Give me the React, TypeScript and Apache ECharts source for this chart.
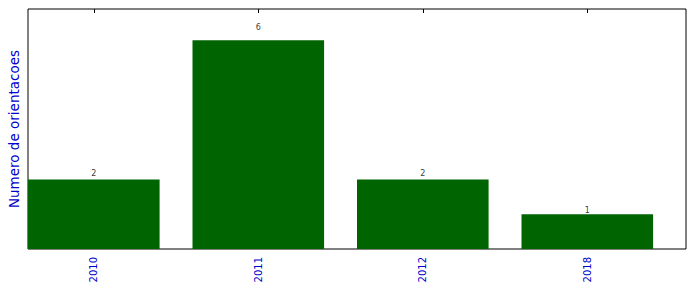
import React, { useEffect, useRef } from "react";
import * as echarts from "echarts";

const years = ["2010", "2011", "2012", "2018"];
const counts = [2, 6, 2, 1];
const yAxisTitle = "Numero de orientacoes";

export default function App() {
  const ref = useRef<HTMLDivElement>(null);
  useEffect(() => {
    if (!ref.current) return;
    const chart = echarts.init(ref.current, null, { renderer: "svg" });
    const positions = years.map((_, i) => i);
    const textBlue = "#0000cd";
    chart.setOption({
      animation: false,
      grid: {
        left: 28,
        right: 10,
        top: 9,
        bottom: 43,
        show: true,
        borderColor: "#000",
        borderWidth: 1,
        backgroundColor: "#fff",
        containLabel: false,
        outerBoundsMode: "none",
      },
      xAxis: [
        {
          type: "value",
          position: "bottom",
          min: -0.4,
          max: 3.6,
          splitLine: { show: false },
          axisLine: { show: false },
          axisTick: {
            show: true,
            inside: true,
            length: 4,
            customValues: positions,
            lineStyle: { color: "#000" },
          },
          axisLabel: {
            show: true,
            customValues: positions,
            rotate: 90,
            margin: 8,
            color: textBlue,
            fontFamily: "DejaVu Sans",
            fontSize: 10,
            formatter: (v: number) => years[Math.round(v)] ?? "",
          },
        },
        {
          type: "value",
          position: "top",
          min: -0.4,
          max: 3.6,
          splitLine: { show: false },
          axisLine: { show: false },
          axisTick: {
            show: true,
            inside: true,
            length: 4,
            customValues: positions,
            lineStyle: { color: "#000" },
          },
          axisLabel: { show: false },
        },
      ],
      yAxis: {
        type: "value",
        min: 0,
        max: 6.9,
        splitLine: { show: false },
        axisLine: { show: false },
        axisTick: { show: false },
        axisLabel: { show: false },
        name: yAxisTitle,
        nameLocation: "middle",
        nameGap: 7,
        nameRotate: 90,
        nameTextStyle: {
          color: textBlue,
          fontFamily: "DejaVu Sans",
          fontSize: 13.5,
        },
      },
      series: [
        {
          type: "bar",
          xAxisIndex: 0,
          barWidth: "80%",
          itemStyle: { color: "#006400" },
          data: counts.map((v, i) => [i, v]),
          z: 2,
        },
        {
          type: "scatter",
          xAxisIndex: 0,
          symbolSize: 0,
          silent: true,
          data: counts.map((v, i) => ({ value: [i, v * 1.05], label: { formatter: String(v) } })),
          label: {
            show: true,
            position: "top",
            distance: -2,
            color: "#000",
            fontFamily: "DejaVu Sans",
            fontSize: 8,
          },
          z: 3,
        },
      ],
    });
    return () => chart.dispose();
  }, []);
  return <div ref={ref} style={{ width: 696, height: 292, position: "absolute", left: 0, top: 0 }} />;
}
